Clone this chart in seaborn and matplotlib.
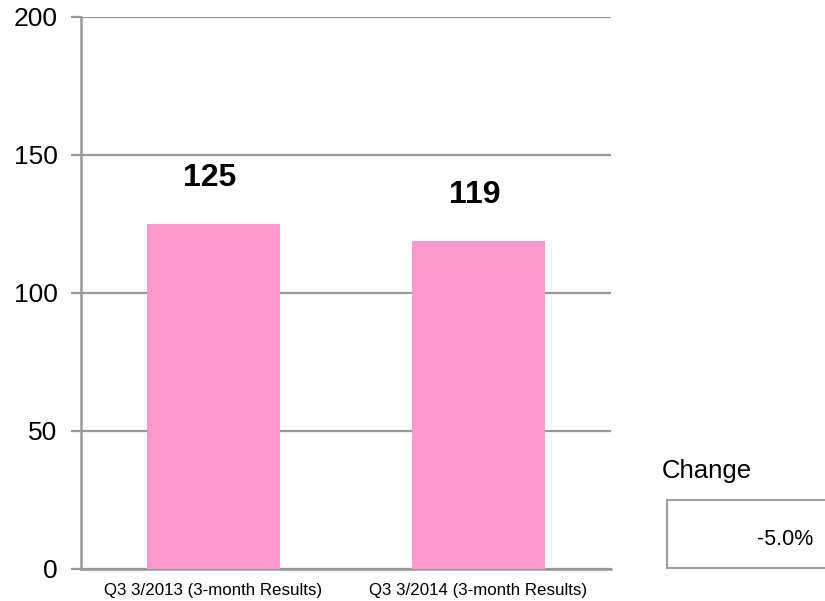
import matplotlib
matplotlib.use("Agg")
import matplotlib.pyplot as plt
import seaborn as sns
import pandas as pd
from matplotlib.patches import Rectangle

# Quarterly results
periods = ["Q3 3/2013 (3-month Results)", "Q3 3/2014 (3-month Results)"]
values = [125, 119]
change_label = "Change"
change_text = "-5.0%"
y_ticks = [0, 50, 100, 150, 200]

sns.set_theme(style="white")
plt.rcParams["font.family"] = ["Liberation Sans", "DejaVu Sans"]

df = pd.DataFrame({"period": periods, "value": values})

W, H = 825, 601
fig = plt.figure(figsize=(W / 100, H / 100), dpi=100)
ax = fig.add_axes([81 / W, 1 - 569 / H, (611 - 81) / W, (569 - 17) / H])

sns.barplot(data=df, x="period", y="value", color="#FF99CC", saturation=1,
            width=0.5, linewidth=0, ax=ax, zorder=3)

grid_c = "#999999"
ax.set_ylim(0, 200)
ax.set_xlim(-0.5, 1.5)
ax.set_yticks(y_ticks)
ax.yaxis.grid(True, color=grid_c, linewidth=1.6, zorder=0)
ax.set_axisbelow(True)
ax.set_xlabel("")
ax.set_ylabel("")

for side in ["top", "right"]:
    ax.spines[side].set_visible(False)
for side in ["left", "bottom"]:
    ax.spines[side].set_color(grid_c)
    ax.spines[side].set_linewidth(1.8)

ax.tick_params(axis="y", left=True, length=7, width=1.6, color=grid_c,
               labelsize=19, pad=10, labelcolor="black")
ax.tick_params(axis="x", bottom=False, labelsize=12.2, pad=4, labelcolor="black")

for i, v in enumerate(values):
    ax.annotate(f"{v}", xy=(i, v), xytext=(-3, 22), textcoords="offset points",
                ha="center", va="bottom", fontsize=23, fontweight="bold",
                color="black")

# Change indicator box
fig.text(662 / W, 1 - 478 / H, change_label, fontsize=18.5, color="black",
         ha="left", va="baseline")
box = Rectangle((667 / W, 1 - 568 / H), (830 - 667) / W, (568 - 500) / H,
                transform=fig.transFigure, facecolor="white",
                edgecolor="#A0A0A0", linewidth=1.5)
fig.patches.append(box)
fig.text(813 / W, 1 - 545 / H, change_text, fontsize=15.5, color="black",
         ha="right", va="baseline")

fig.savefig("out.png", dpi=100)
